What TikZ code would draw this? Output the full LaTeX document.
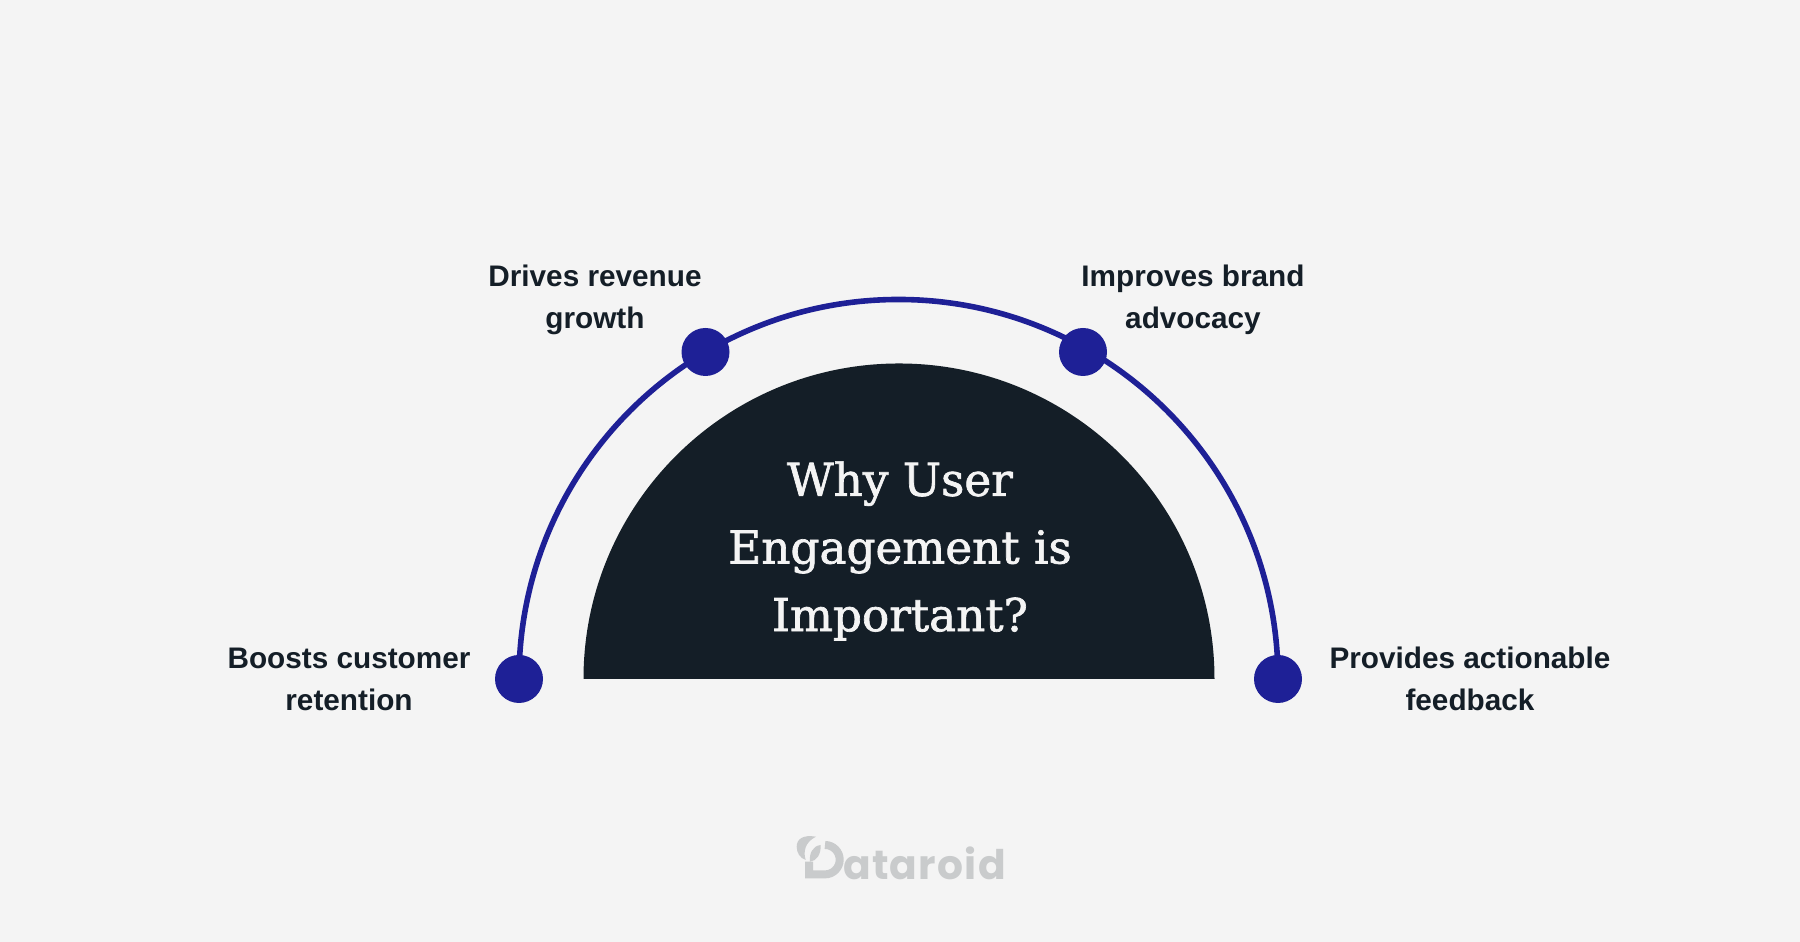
\documentclass[tikz,border=0pt]{standalone}
\usepackage{fontspec}
\usepackage{tikz}
\setmainfont{Liberation Sans}
\newfontfamily\titlefont[FakeBold=1.5]{DejaVu Serif}
\newfontfamily\logofont[LetterSpace=3]{Poppins}
\definecolor{pagebg}{HTML}{F4F4F4}
\definecolor{inkdark}{HTML}{141E27}
\definecolor{arcblue}{HTML}{1E2096}
\definecolor{logogrey}{HTML}{C9CBCC}
\tikzset{
    dotmark/.style={circle, fill=arcblue, minimum size=0.48cm, inner sep=0pt},
    benefit/.style={align=center, text=inkdark, font=\fontsize{8.46}{11.95}\selectfont\bfseries},
    logoline/.style={logogrey, line width=0.08cm}
}

\begin{document}
\begin{tikzpicture}
    % Page
    \fill[pagebg] (0,0) rectangle (18,9.42);
    \useasboundingbox (0,0) rectangle (18,9.42);
    % Half disc
    \fill[inkdark] (5.835,2.63) arc[start angle=180, end angle=0, radius=3.155] -- cycle;
    \node (title) at (9,3.91) [align=center, text=pagebg, font=\fontsize{12.9}{19.25}\selectfont\titlefont] {Why User\\Engagement is\\Important?};
    % Dots on the arc
    \node[dotmark] (dotretention) at (5.19,2.63) {};
    \node[dotmark] (dotrevenue) at (7.055,5.90) {};
    \node[dotmark] (dotadvocacy) at (10.83,5.90) {};
    \node[dotmark] (dotfeedback) at (12.78,2.63) {};
    \draw[arcblue, line width=0.056cm] (dotretention.center) arc[start angle=180, end angle=0, radius=3.795];
    % Labels
    \node[benefit] (retention) at (3.49,2.63) {Boosts customer\\retention};
    \node[benefit] (revenue) at (5.95,6.42) {Drives revenue\\growth};
    \node[benefit] (advocacy) at (11.93,6.42) {Improves brand\\advocacy};
    \node[benefit] (feedback) at (14.70,2.63) {Provides actionable\\feedback};
    % Logo
    \draw[logoline] (8.25,0.97) arc[start angle=90, end angle=-90, radius=0.147] -- (8.09,0.676) -- (8.09,0.803);
    \fill[logogrey] (8.16,1.053) .. controls (8.03,1.075) and (7.967,1.03) .. (7.967,0.953) .. controls (7.967,0.89) and (8.0,0.84) .. (8.057,0.82) .. controls (8.03,0.9) and (8.05,1.0) .. cycle;
    \fill[logogrey] (8.207,0.97) .. controls (8.13,0.96) and (8.09,0.89) .. (8.10,0.803) .. controls (8.17,0.81) and (8.21,0.88) .. cycle;
    \node (logo) at (9.245,0.785) [text=logogrey, inner sep=0pt, font=\fontsize{11.6}{12}\selectfont\logofont\bfseries] {ataroid};
\end{tikzpicture}
\end{document}
